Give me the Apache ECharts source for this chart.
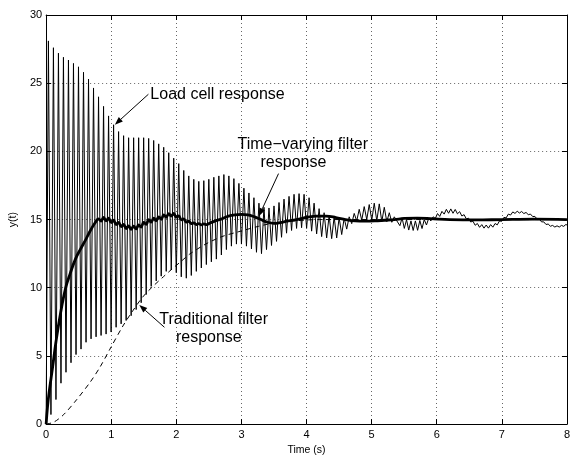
<!DOCTYPE html>
<html><head><meta charset="utf-8">
<script src="https://cdn.jsdelivr.net/npm/echarts@6/dist/echarts.min.js"></script>
<style>html,body{margin:0;padding:0;background:#fff}#c{width:573px;height:461px}</style>
</head><body><div id="c"></div>
<script>
// ---- data ----
const xTicks = [0, 1, 2, 3, 4, 5, 6, 7, 8];
const yTicks = [0, 5, 10, 15, 20, 25, 30];

// Load cell response: [time (s), y] at the extrema of the oscillation
const loadCell = [
[0,0],
[0.035,28.1],[0.074,0.7],[0.112,27.6],[0.151,1.8],[0.189,27.2],[0.228,3.0],
[0.266,26.9],[0.305,3.8],[0.343,26.7],[0.382,4.5],[0.420,26.45],[0.459,5.1],
[0.497,26.2],[0.536,5.5],[0.574,25.8],[0.613,6.0],[0.651,25.3],[0.690,6.25],
[0.728,24.65],[0.767,6.4],[0.805,24.0],[0.844,6.5],[0.882,23.3],[0.921,6.6],
[0.959,22.6],[0.998,6.75],[1.036,21.95],[1.075,7.1],[1.113,21.45],[1.152,7.35],
[1.190,21.15],[1.229,7.6],[1.267,21.0],[1.306,7.95],[1.344,21.0],[1.383,8.4],
[1.421,21.0],[1.460,8.9],[1.498,21.0],[1.537,9.5],[1.575,20.95],[1.614,10.1],
[1.652,20.8],[1.691,10.5],[1.729,20.55],[1.768,10.85],[1.806,20.3],[1.845,11.2],
[1.883,19.9],[1.922,11.3],[1.960,19.5],[1.999,11.1],[2.037,19.1],[2.076,10.8],
[2.114,18.6],[2.153,10.7],[2.191,18.2],[2.230,10.9],[2.268,17.95],[2.307,11.2],
[2.345,17.8],[2.384,11.45],[2.422,17.85],[2.461,11.7],[2.499,17.95],[2.538,11.9],
[2.576,18.1],[2.615,12.1],[2.653,18.2],[2.692,12.4],[2.730,18.3],[2.769,12.8],
[2.807,18.2],[2.846,13.05],[2.884,18.0],[2.923,13.2],[2.961,17.65],[3.000,13.2],
[3.038,17.3],[3.077,13.05],[3.115,16.95],[3.154,12.85],[3.192,16.6],[3.231,12.6],
[3.269,16.2],[3.308,12.5],[3.346,15.9],[3.385,12.8],[3.423,15.85],[3.462,13.1],
[3.500,16.0],[3.539,13.4],[3.577,16.25],[3.616,13.7],[3.654,16.5],[3.693,14.0],
[3.731,16.7],[3.770,14.2],[3.808,16.85],[3.847,14.35],[3.885,16.9],[3.924,14.4],
[3.962,16.85],[4.001,14.35],[4.039,16.6],[4.078,14.15],[4.116,16.2],[4.155,13.95],
[4.193,15.8],[4.232,13.75],[4.270,15.5],[4.309,13.65],[4.347,15.3],[4.386,13.6],
[4.424,15.2],[4.463,13.65],[4.501,15.15],[4.540,13.9],[4.578,15.1],[4.617,14.3],
[4.655,15.2],[4.694,14.7],[4.732,15.45],[4.771,14.9],[4.809,15.75],[4.848,14.95],
[4.886,15.95],[4.925,15.0],[4.963,16.1],[5.002,14.95],[5.040,16.2],[5.079,14.9],
[5.117,16.15],[5.156,14.85],[5.194,15.9],[5.233,14.85],[5.271,15.5],[5.310,14.8],
[5.348,15.2],
[5.434,14.55],[5.468,15.12],[5.502,14.35],[5.536,14.99],[5.570,14.23],[5.604,14.90],
[5.638,14.20],[5.672,14.90],[5.706,14.21],[5.740,14.93],[5.774,14.34],[5.808,15.00],
[5.842,14.60],[5.876,15.08],[5.910,14.90],[5.944,15.20],[5.978,15.08],[6.012,15.44],
[6.046,15.23],[6.080,15.60],[6.114,15.40],[6.148,15.75],[6.182,15.46],[6.216,15.78],
[6.250,15.46],[6.284,15.74],[6.318,15.42],[6.352,15.58],[6.386,15.26],[6.420,15.36],
[6.454,15.05],[6.488,15.10],[6.522,14.82],[6.556,14.88],[6.590,14.58],[6.624,14.71],
[6.658,14.43],[6.692,14.63],[6.726,14.37],[6.760,14.60],[6.794,14.37],[6.828,14.63],
[6.862,14.44],[6.896,14.71],[6.930,14.61],[6.964,14.90],[6.998,14.87],[7.032,15.16],
[7.066,15.12],[7.100,15.40],[7.134,15.33],[7.168,15.56],[7.202,15.45],[7.236,15.61],
[7.270,15.48],[7.304,15.59],[7.338,15.44],[7.372,15.52],[7.406,15.36],[7.440,15.40],
[7.474,15.22],[7.508,15.23],[7.542,15.03],[7.576,15.03],[7.610,14.83],[7.644,14.83],
[7.678,14.64],[7.712,14.67],[7.746,14.51],[7.780,14.57],[7.814,14.45],[7.848,14.54],
[7.882,14.45],[7.916,14.57],[7.950,14.50],[7.984,14.64],[8.000,14.60]
];

// Traditional filter response (dashed)
const traditional = [
[0,0],[0.12,0.15],[0.27,0.7],[0.47,1.8],[0.68,3.1],[0.83,4.2],[0.98,5.5],
[1.18,7.2],[1.33,8.3],[1.48,9.3],[1.64,10.1],[1.8,10.8],[1.94,11.4],[2.09,12.0],
[2.2,12.45],[2.45,13.2],[2.7,13.75],[2.95,14.1],[3.26,14.5],[3.5,14.75],[3.8,14.9],
[4.2,15.0],[5,15.0],[6,15.0],[7,15.0],[8,15.0]
];

// Time-varying filter response (thick), with its small ripple between 0.8 s and 2.5 s
const timeVarying = [
[0,0],[0.02,1.2],[0.045,2.3],[0.1,4.2],[0.15,6.0],[0.22,8.1],[0.3,10.0],[0.37,11.05],
[0.45,12.1],[0.53,12.85],[0.6,13.45],[0.68,14.2],[0.75,14.75],
[0.805,15.05],[0.844,14.88],[0.882,15.16],[0.921,14.91],[0.959,15.10],[0.998,14.80],
[1.036,14.95],[1.075,14.63],[1.113,14.80],[1.152,14.48],[1.190,14.64],[1.229,14.34],
[1.267,14.53],[1.306,14.28],[1.344,14.52],[1.383,14.31],[1.421,14.60],[1.460,14.45],
[1.498,14.79],[1.537,14.65],[1.575,14.99],[1.614,14.81],[1.652,15.10],[1.691,14.91],
[1.729,15.20],[1.768,15.02],[1.806,15.34],[1.845,15.17],[1.883,15.44],[1.922,15.26],
[1.960,15.45],[1.999,15.18],[2.037,15.27],[2.076,14.98],[2.114,15.05],[2.153,14.81],
[2.191,14.88],[2.230,14.70],[2.268,14.76],[2.307,14.63],[2.345,14.70],[2.384,14.61],
[2.422,14.69],[2.461,14.63],[2.52,14.75],
[2.6,14.9],[2.7,15.05],[2.8,15.25],[2.9,15.35],[3.0,15.38],[3.1,15.35],[3.2,15.2],
[3.3,15.0],[3.4,14.8],[3.5,14.72],[3.6,14.78],[3.7,14.88],[3.8,14.95],[3.9,15.05],
[4.0,15.15],[4.15,15.25],[4.3,15.25],[4.45,15.15],[4.6,15.0],[4.75,14.9],[4.9,14.88],
[5.05,14.9],[5.2,14.95],[5.35,15.0],[5.5,15.08],[5.7,15.1],[5.9,15.07],[6.2,15.0],
[6.6,14.97],[7.0,15.0],[7.5,15.03],[8.0,15.0]
];

// Annotation texts (anchored at their left/middle in data coordinates) and arrows
const labels = [
  {text: 'Load cell response', at: [1.601, 24.17]},
  {text: 'Time\u2212varying filter', at: [2.94, 20.52]},
  {text: 'response', at: [3.293, 19.21]},
  {text: 'Traditional filter', at: [1.737, 7.70]},
  {text: 'response', at: [1.994, 6.33]}
];
const arrows = [
  {from: [1.571, 24.19], to: [1.056, 21.96]},
  {from: [3.57, 18.37], to: [3.268, 15.25]},
  {from: [1.817, 7.10], to: [1.431, 8.73]}
];

const FONT = 'Liberation Sans, Arial, Helvetica, sans-serif';
const chart = echarts.init(document.getElementById('c'), null, {renderer: 'canvas'});

const baseAxis = (extra) => Object.assign({
  type: 'value',
  axisLine: {show: true, onZero: false, lineStyle: {color: '#000', width: 1}},
  axisTick: {show: true, inside: true, length: 5, lineStyle: {color: '#000', width: 1}},
  splitLine: {show: false}
}, extra);

chart.setOption({
  animation: false,
  backgroundColor: '#fff',
  grid: {left: 42, right: 1.5, top: 15, bottom: 29, containLabel: false},
  xAxis: [
    baseAxis({
      min: xTicks[0], max: xTicks[xTicks.length - 1], interval: 1, position: 'bottom',
      axisLabel: {color: '#000', fontSize: 11, fontFamily: FONT, margin: 5},
      splitLine: {show: true, lineStyle: {color: '#666', width: 1, type: [1, 3]}},
      name: 'Time (s)', nameLocation: 'middle', nameGap: 17,
      nameTextStyle: {color: '#000', fontSize: 10.5, fontFamily: FONT}
    }),
    baseAxis({
      min: xTicks[0], max: xTicks[xTicks.length - 1], interval: 1, position: 'top',
      axisLabel: {show: false}
    })
  ],
  yAxis: [
    baseAxis({
      min: yTicks[0], max: yTicks[yTicks.length - 1], interval: 5, position: 'left',
      axisLabel: {color: '#000', fontSize: 11, fontFamily: FONT, margin: 4},
      splitLine: {show: true, lineStyle: {color: '#666', width: 1, type: [1, 3]}},
      name: 'y(t)', nameLocation: 'middle', nameGap: 27,
      nameTextStyle: {color: '#000', fontSize: 10.5, fontFamily: FONT}
    }),
    baseAxis({
      min: yTicks[0], max: yTicks[yTicks.length - 1], interval: 5, position: 'right',
      axisLabel: {show: false}
    })
  ],
  series: [
    {
      name: 'Load cell response', type: 'line', data: loadCell, showSymbol: false,
      symbol: 'none', lineStyle: {color: '#000', width: 1}, z: 2
    },
    {
      name: 'Traditional filter response', type: 'line', data: traditional, showSymbol: false,
      symbol: 'none', smooth: 0.3, lineStyle: {color: '#000', width: 1, type: [5, 4]}, z: 3
    },
    {
      name: 'Time-varying filter response', type: 'line', data: timeVarying, showSymbol: false,
      symbol: 'none', smooth: 0.4, lineStyle: {color: '#000', width: 2.8}, z: 4
    }
  ]
});

// annotations positioned through the chart's own coordinate conversion
const px = (p) => chart.convertToPixel({gridIndex: 0}, p);
const elements = [];
labels.forEach(l => {
  const p = px(l.at);
  elements.push({
    type: 'text', x: p[0], y: p[1], z: 10,
    style: {text: l.text, fill: '#000', font: '16px ' + FONT, textAlign: 'left', textVerticalAlign: 'middle'}
  });
});
arrows.forEach(a => {
  const p0 = px(a.from), p1 = px(a.to);
  const dx = p1[0] - p0[0], dy = p1[1] - p0[1];
  const len = Math.hypot(dx, dy), ux = dx / len, uy = dy / len;
  const hl = 8, hw = 3;
  const bx = p1[0] - ux * hl, by = p1[1] - uy * hl;
  elements.push({type: 'line', z: 10, shape: {x1: p0[0], y1: p0[1], x2: bx, y2: by},
    style: {stroke: '#000', lineWidth: 1}});
  elements.push({type: 'polygon', z: 10, shape: {points: [
      [p1[0], p1[1]], [bx - uy * hw, by + ux * hw], [bx + uy * hw, by - ux * hw]]},
    style: {fill: '#000'}});
});
chart.setOption({graphic: elements});
</script>
</body></html>
